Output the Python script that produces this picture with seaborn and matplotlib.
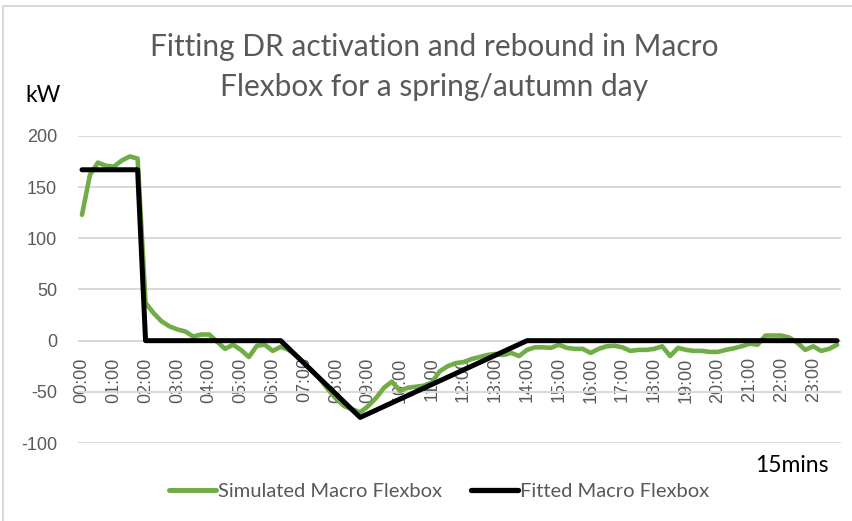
import pandas as pd
import matplotlib.pyplot as plt
import seaborn as sns
from matplotlib.lines import Line2D

# 15-minute steps over one day (96 points)
simulated_kw = [123, 162, 174, 171, 170, 176, 180, 178,
                37, 27, 19, 14, 11, 9, 4, 6,
                6, -1, -8, -4, -9, -16, -5, -4,
                -10, -6, -9, -15, -22, -30, -38, -48,
                -57, -64, -67, -70, -64, -56, -46, -40,
                -49, -46, -45, -44, -41, -30, -25, -22,
                -21, -18, -16, -14, -13, -14, -12, -15,
                -9, -6.5, -6.5, -7, -4, -7, -8, -8,
                -12, -8, -5.5, -5, -6.5, -10, -9, -9,
                -8, -5.5, -15, -7, -9, -10, -10, -11,
                -11, -9, -7.5, -5.5, -3, -4, 5, 5,
                5, 3, -2, -9, -5.5, -10, -8, -4]

# fitted profile breakpoints (step index, kW)
fitted_step = [0, 7, 8, 25, 35, 56, 95]
fitted_kw = [167, 167, 0, 0, -75, 0, 0]

hour_labels = ["00:00", "01:00", "02:00", "03:00", "04:00", "05:00", "06:00", "07:00",
               "08:00", "09:00", "10:00", "11:00", "12:00", "13:00", "14:00", "15:00",
               "16:00", "17:00", "18:00", "19:00", "20:00", "21:00", "22:00", "23:00"]

df_sim = pd.DataFrame({'step': range(len(simulated_kw)), 'kW': simulated_kw})
df_fit = pd.DataFrame({'step': fitted_step, 'kW': fitted_kw})

sns.set_theme(style="white")
plt.rcParams['font.family'] = ['Liberation Sans', 'DejaVu Sans']
plt.rcParams['axes.unicode_minus'] = False

fig = plt.figure(figsize=(8.52, 5.21), dpi=100)
ax = fig.add_axes([78/852, 1 - 443/521, (841 - 78)/852, (443 - 136)/521])

green = '#70AD47'
grey_txt = '#595959'
lato = ['Lato', 'DejaVu Sans']

sns.lineplot(data=df_sim, x='step', y='kW', color=green, linewidth=3.3, ax=ax)
sns.lineplot(data=df_fit, x='step', y='kW', color='black', linewidth=3.6, ax=ax)

ax.set_xlim(-0.5, 95.5)
ax.set_ylim(-100, 200)
ax.set_yticks([-100, -50, 0, 50, 100, 150, 200])
ax.set_xticks(range(0, 96, 4))
ax.set_xticklabels(hour_labels)
ax.set_xlabel('')
ax.set_ylabel('')
ax.grid(axis='y', color='#d9d9d9', linewidth=1.4)
ax.set_axisbelow(True)
for s in ax.spines.values():
    s.set_visible(False)
# category axis crosses at 0 like in Excel
ax.spines['bottom'].set_position(('data', 0))
ax.tick_params(axis='x', length=0, pad=12, labelsize=13, labelcolor=grey_txt,
               labelrotation=90)
ax.tick_params(axis='y', length=0, pad=15, labelsize=13, labelcolor=grey_txt)

fig.text(0.51, 1 - 47/521, 'Fitting DR activation and rebound in Macro',
         ha='center', va='center', fontsize=21.5, color=grey_txt, family=lato)
fig.text(0.51, 1 - 87/521, 'Flexbox for a spring/autumn day',
         ha='center', va='center', fontsize=21.5, color=grey_txt, family=lato)
fig.text(25/852, 1 - 95/521, 'kW', ha='left', va='center', fontsize=16.5,
         color='black', family=lato)
fig.text(829/852, 1 - 465/521, '15mins', ha='right', va='center', fontsize=16.5,
         color='black', family=lato)

handles = [Line2D([], [], color=green, linewidth=3.6),
           Line2D([], [], color='black', linewidth=3.8)]
leg = fig.legend(handles, ['Simulated Macro Flexbox', 'Fitted Macro Flexbox'],
                 loc='center', bbox_to_anchor=(439/852, 1 - 491/521), ncol=2,
                 frameon=False, handlelength=2.35, handletextpad=0.1,
                 columnspacing=1.4, prop={'family': lato, 'size': 14.5})
for t in leg.get_texts():
    t.set_color(grey_txt)

# light chart border (top and left edges visible in the crop)
fig.add_artist(Line2D([3/852, 3/852], [0, 1 - 6/521], transform=fig.transFigure,
                      color='#d9d9d9', linewidth=1.5))
fig.add_artist(Line2D([3/852, 1], [1 - 6/521, 1 - 6/521], transform=fig.transFigure,
                      color='#d9d9d9', linewidth=1.5))

fig.savefig('out.png', dpi=100)
